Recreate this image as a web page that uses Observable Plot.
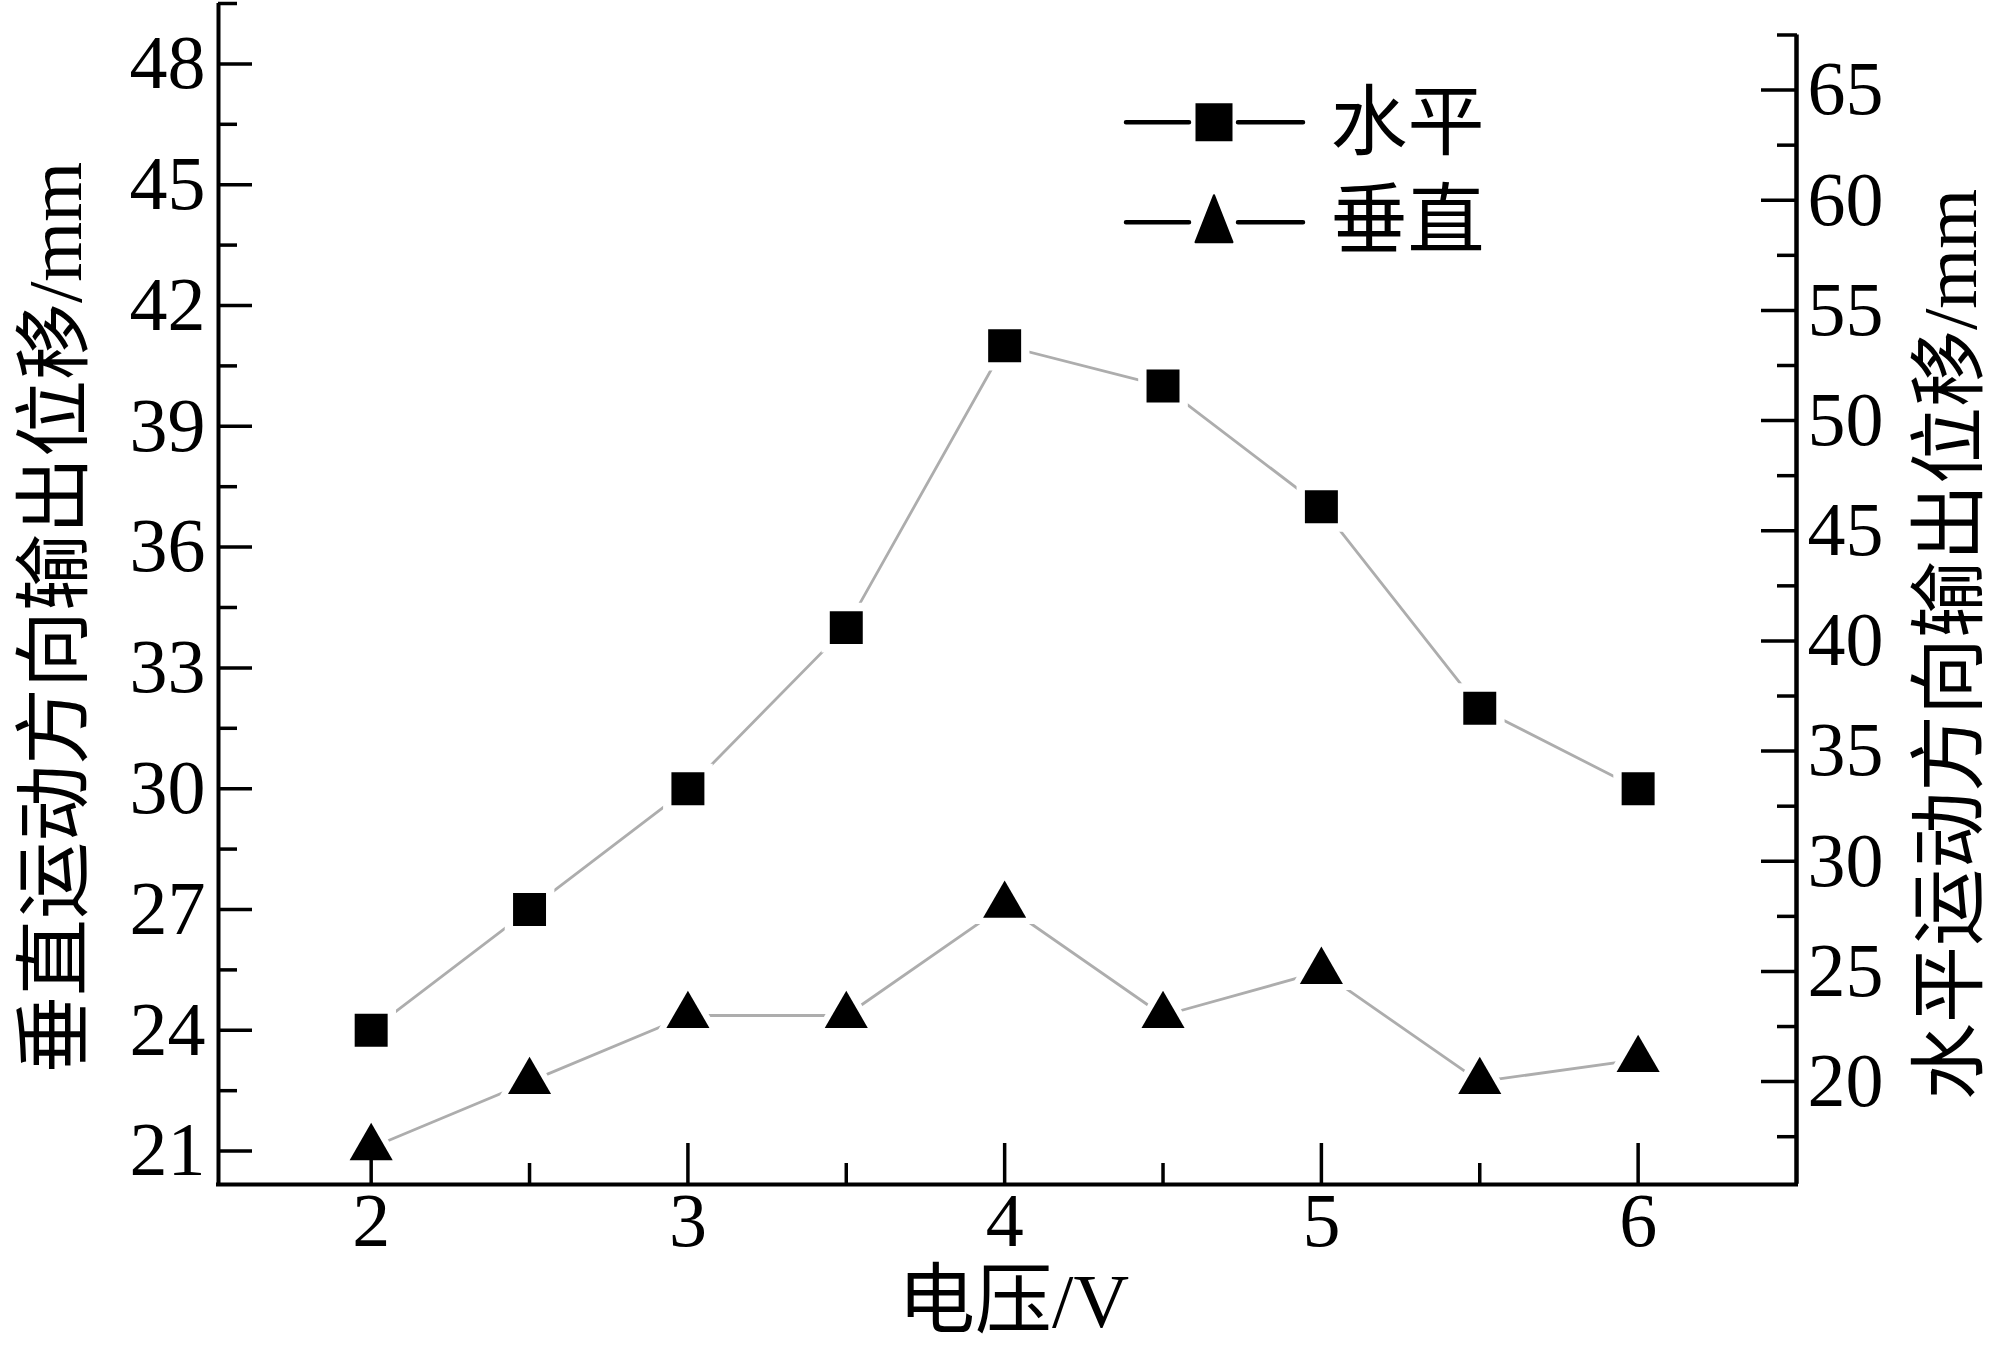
<!DOCTYPE html>
<html><head><meta charset="utf-8">
<script src="https://cdn.jsdelivr.net/npm/d3@7"></script>
<script src="https://cdn.jsdelivr.net/npm/@observablehq/plot@0.6"></script>
<style>html,body{margin:0;padding:0;background:#fff;}#chart{width:1994px;height:1345px;}</style>
</head><body><div id="chart"></div>
<script>
// ---- data ----
const voltage = [2, 2.5, 3, 3.5, 4, 4.5, 5, 5.5, 6];
const horizontal = [24, 27, 30, 34, 41, 40, 37, 32, 30];   // squares, read on the left axis
const vertical = [17, 20, 23, 23, 28, 23, 25, 20, 21];     // triangles, read on the right axis
const seriesNames = ["水平", "垂直"];
const xMajorTicks = [2, 3, 4, 5, 6];
const xMinorTicks = [2.5, 3.5, 4.5, 5.5];
const leftMajorTicks = [21, 24, 27, 30, 33, 36, 39, 42, 45, 48];
const leftMinorTicks = [22.5, 25.5, 28.5, 31.5, 34.5, 37.5, 40.5, 43.5, 46.5, 49.5];
const rightMajorTicks = [20, 25, 30, 35, 40, 45, 50, 55, 60, 65];
const rightMinorTicks = [17.5, 22.5, 27.5, 32.5, 37.5, 42.5, 47.5, 52.5, 57.5, 62.5, 67.5];
const xLabel = "电压/V";
const leftLabel = "垂直运动方向输出位移/mm";
const rightLabel = "水平运动方向输出位移/mm";

// ---- scales / axis extents ----
const xDomain = [1.518, 6.5];
const leftDomain = [20.17, 49.5];
const rightExtent = [15.34, 67.5];
const rightCalib = [20, 65], leftCalib = [22.725, 47.35];
const toLeft = d3.scaleLinear().domain(rightCalib).range(leftCalib);

const rows = voltage.map((v, i) => ({v, h: horizontal[i], vt: toLeft(vertical[i])}));

const FONT = "'Liberation Serif', 'Noto Sans CJK SC', serif";
const TICK_FS = 76, LABEL_FS = 77;
const gray = "#adadad";

const legendLine = {draw(ctx) { ctx.moveTo(-88, 0); ctx.lineTo(-25, 0); ctx.moveTo(24, 0); ctx.lineTo(89, 0); }};
const legendSquare = {draw(ctx) { ctx.rect(-18.5, -19, 37, 38); }};
const legendTri = {draw(ctx) { ctx.moveTo(0, -27); ctx.lineTo(18.5, 20); ctx.lineTo(-18.5, 20); ctx.closePath(); }};

const W = 1994, H = 1345, mL = 218, mR = 198, mT = 3, mB = 161;
const legX = 1213.5 - mL, legY = [121.7 - mT, 221.7 - mT];
const legTextX = 1330 - mL, legTextY = [120.6, 218.6];
const mid = {textAnchor: "middle", lineAnchor: "middle", fontSize: LABEL_FS};

const chart = Plot.plot({
  width: W, height: H,
  marginLeft: mL, marginRight: mR, marginTop: mT, marginBottom: mB,
  style: {fontFamily: FONT, fontSize: TICK_FS + "px", background: "#fff", color: "#000"},
  x: {domain: xDomain, label: null},
  y: {domain: leftDomain, label: null},
  marks: [
    // connecting lines
    Plot.line(rows, {x: "v", y: "h", stroke: gray, strokeWidth: 2.8}),
    Plot.line(rows, {x: "v", y: "vt", stroke: gray, strokeWidth: 2.8}),
    // white halos so the lines stop short of the markers
    Plot.dot(rows, {x: "v", y: "h", symbol: "square", r: 28, fill: "#fff"}),
    Plot.dot(rows, {x: "v", y: "vt", symbol: "triangle", r: 24, fill: "#fff"}),
    Plot.dot(rows, {x: "v", y: "h", symbol: "square", r: 18.6, fill: "#000"}),
    Plot.dot(rows, {x: "v", y: "vt", symbol: "triangle", r: 16, fill: "#000"}),
    // axis lines
    Plot.ruleY([leftDomain[0]], {stroke: "#000", strokeWidth: 4, strokeLinecap: "square"}),
    Plot.ruleX([xDomain[0]], {stroke: "#000", strokeWidth: 4}),
    Plot.ruleX([xDomain[1]], {y1: toLeft(rightExtent[0]), y2: toLeft(rightExtent[1]), stroke: "#000", strokeWidth: 4.5}),
    // x axis (ticks inward)
    Plot.axisX({ticks: xMajorTicks, tickSize: -41, tickPadding: 49, strokeWidth: 3.5, label: null, tickFormat: d => String(d), fontSize: TICK_FS}),
    Plot.axisX({ticks: xMinorTicks, tickSize: -21, tickPadding: 0, strokeWidth: 3.5, label: null, tickFormat: () => ""}),
    // left axis
    Plot.axisY({ticks: leftMajorTicks, anchor: "left", tickSize: -34, tickPadding: 47, strokeWidth: 3.5, label: null, tickFormat: d => String(d), fontSize: TICK_FS}),
    Plot.axisY({ticks: leftMinorTicks, anchor: "left", tickSize: -19, tickPadding: 0, strokeWidth: 3.5, label: null, tickFormat: () => ""}),
    // right axis (values converted into the left scale)
    Plot.axisY({ticks: rightMajorTicks.map(toLeft), anchor: "right", tickSize: -36, tickPadding: 47, strokeWidth: 3.5, label: null,
      tickFormat: d => String(Math.round(toLeft.invert(d))), fontSize: TICK_FS}),
    Plot.axisY({ticks: rightMinorTicks.map(toLeft), anchor: "right", tickSize: -20, tickPadding: 0, strokeWidth: 3.5, label: null, tickFormat: () => ""}),
    // axis titles
    Plot.text([leftLabel], {text: d => d, frameAnchor: "left", rotate: -90, dx: -162, dy: 23.5, ...mid}),
    Plot.text([rightLabel], {text: d => d, frameAnchor: "right", rotate: -90, dx: 155, dy: 50.5, ...mid}),
    Plot.text([xLabel], {text: d => d, frameAnchor: "bottom", dx: 6, dy: 118, ...mid}),
    // legend
    Plot.dot([seriesNames[0]], {frameAnchor: "top-left", dx: legX, dy: legY[0], symbol: legendLine, r: 10, stroke: "#000", strokeWidth: 4.5, strokeLinecap: "round"}),
    Plot.dot([seriesNames[1]], {frameAnchor: "top-left", dx: legX, dy: legY[1], symbol: legendLine, r: 10, stroke: "#000", strokeWidth: 4.5, strokeLinecap: "round"}),
    Plot.dot([seriesNames[0]], {frameAnchor: "top-left", dx: legX, dy: legY[0], symbol: legendSquare, r: 10, fill: "#000"}),
    Plot.dot([seriesNames[1]], {frameAnchor: "top-left", dx: legX, dy: legY[1], symbol: legendTri, r: 10, fill: "#000", stroke: "#000", strokeWidth: 2, strokeLinejoin: "round"}),
    Plot.text([seriesNames[0]], {text: d => d, frameAnchor: "top-left", dx: legTextX, dy: legTextY[0], ...mid, textAnchor: "start"}),
    Plot.text([seriesNames[1]], {text: d => d, frameAnchor: "top-left", dx: legTextX, dy: legTextY[1], ...mid, textAnchor: "start"})
  ]
});
document.getElementById("chart").appendChild(chart);
</script>
</body></html>
